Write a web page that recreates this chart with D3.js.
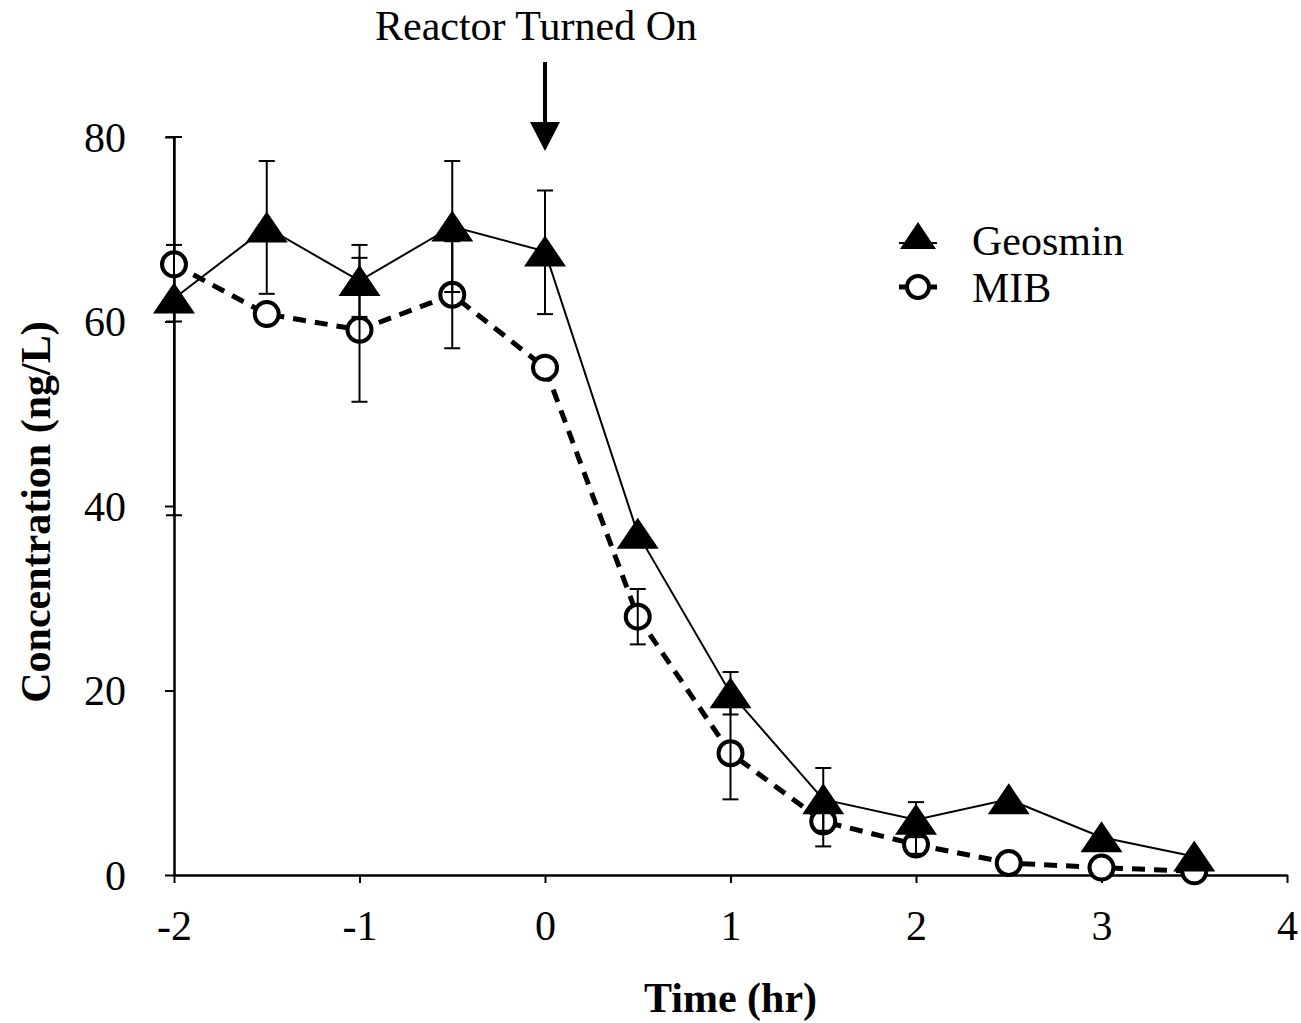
<!DOCTYPE html>
<html>
<head>
<meta charset="utf-8">
<script src="https://cdn.jsdelivr.net/npm/d3@7"></script>
<style>
  body { margin: 0; background: #fff; }
  svg text { font-family: "Liberation Serif", "Times New Roman", serif; fill: #000; }
</style>
</head>
<body>
<div id="chart"></div>
<script>
// data
const times = [-2, -1.5, -1, -0.5, 0, 0.5, 1, 1.5, 2, 2.5, 3, 3.5];
const geosmin = [62.5, 70.2, 64.4, 70.3, 67.6, 37.0, 19.7, 8.2, 6.0, 8.2, 4.1, 2.0];
const geoErrHi = [23.5, 7.2, 3.9, 7.1, 6.6, 0, 2.3, 3.4, 1.9, 0, 0, 0];
const geoErrLo = [23.5, 7.2, 3.9, 7.1, 6.8, 0, 2.3, 3.4, 1.9, 0, 0, 0];
const mib = [66.2, 60.8, 59.1, 62.9, 55.0, 28.0, 13.2, 5.8, 3.3, 1.3, 0.8, 0.4];
const mibErrHi = [2.1, 0, 7.8, 5.8, 0, 3.0, 5.0, 2.7, 1.0, 0, 0, 0];
const mibErrLo = [6.2, 0, 7.8, 5.8, 0, 3.0, 5.0, 2.7, 1.0, 0, 0, 0];
const xTicks = [-2, -1, 0, 1, 2, 3, 4];
const yTicks = [0, 20, 40, 60, 80];
const seriesNames = ["Geosmin", "MIB"];

const W = 1301, H = 1023;
const fs = 42;

const svg = d3.select("#chart").append("svg")
    .attr("width", W)
    .attr("height", H);

const x = d3.scaleLinear().domain([-2, 4]).range([174, 1287]);
const y = d3.scaleLinear().domain([0, 80]).range([875, 137]);

const geoData = times.map((t, i) => ({t: t, v: geosmin[i], hi: geoErrHi[i], lo: geoErrLo[i]}));
const mibData = times.map((t, i) => ({t: t, v: mib[i], hi: mibErrHi[i], lo: mibErrLo[i]}));

// axes
const xAxis = svg.append("g")
    .attr("transform", `translate(0, ${y(0)})`)
    .call(d3.axisBottom(x).tickValues(xTicks).tickSize(8).tickSizeOuter(0)
        .tickFormat(d3.format("d")));
const yAxis = svg.append("g")
    .attr("transform", `translate(${x(-2)}, 0)`)
    .call(d3.axisLeft(y).tickValues(yTicks).tickSize(9).tickSizeOuter(0));

[xAxis, yAxis].forEach(function (a) {
    a.select(".domain").attr("stroke", "#000").attr("stroke-width", 2.5);
    a.selectAll(".tick line").attr("stroke", "#000").attr("stroke-width", 2);
    a.selectAll(".tick text")
        .style("font-family", "'Liberation Serif', serif")
        .style("font-size", fs + "px")
        .attr("fill", "#000");
});
xAxis.selectAll(".tick text").attr("y", 0).attr("dy", 0)
    .attr("transform", "translate(0, 65)");
// keep the hyphen-minus look of the original labels
xAxis.selectAll(".tick text").text(d => String(d));
yAxis.selectAll(".tick text").attr("x", -48).attr("dy", "0.34em");

// axis titles
svg.append("text")
    .attr("x", x(1))
    .attr("y", 1012)
    .attr("text-anchor", "middle")
    .style("font-size", fs + "px")
    .style("font-weight", "bold")
    .text("Time (hr)");

svg.append("text")
    .attr("transform", `translate(50, ${(y(0) + y(80)) / 2 + 6}) rotate(-90)`)
    .attr("text-anchor", "middle")
    .style("font-size", fs + "px")
    .style("font-weight", "bold")
    .text("Concentration (ng/L)");

// annotation
svg.append("text")
    .attr("x", 536)
    .attr("y", 40)
    .attr("text-anchor", "middle")
    .style("font-size", fs + "px")
    .text("Reactor Turned On");
svg.append("line")
    .attr("x1", x(0)).attr("x2", x(0))
    .attr("y1", 62).attr("y2", 126)
    .attr("stroke", "#000").attr("stroke-width", 4);
svg.append("path")
    .attr("d", `M${x(0) - 15},122 L${x(0) + 15},122 L${x(0)},151 Z`)
    .attr("fill", "#000");

// lines
const line = d3.line().x(d => x(d.t)).y(d => y(d.v));

svg.append("path")
    .datum(mibData)
    .attr("d", line)
    .attr("fill", "none")
    .attr("stroke", "#000")
    .attr("stroke-width", 5)
    .attr("stroke-dasharray", "13,9");

svg.append("path")
    .datum(geoData)
    .attr("d", line)
    .attr("fill", "none")
    .attr("stroke", "#000")
    .attr("stroke-width", 2);

// markers
const tri = "M0,-16 L21,15 L-21,15 Z";

svg.append("g").selectAll("circle")
    .data(mibData)
    .enter()
    .append("circle")
    .attr("cx", d => x(d.t))
    .attr("cy", d => y(d.v))
    .attr("r", 12)
    .attr("fill", "#fff")
    .attr("stroke", "#000")
    .attr("stroke-width", 4);

svg.append("g").selectAll("path")
    .data(geoData)
    .enter()
    .append("path")
    .attr("d", tri)
    .attr("transform", d => `translate(${x(d.t)}, ${y(d.v)})`)
    .attr("fill", "#000");

// error bars, clipped to the plot range like the original
function errorBars(data) {
    const g = svg.append("g").attr("stroke", "#000").attr("stroke-width", 2);
    data.filter(d => d.hi > 0 || d.lo > 0).forEach(function (d) {
        const cx = x(d.t);
        const top = y(Math.min(80, d.v + d.hi));
        const bot = y(Math.max(0, d.v - d.lo));
        g.append("line").attr("x1", cx).attr("x2", cx).attr("y1", top).attr("y2", bot);
        g.append("line").attr("x1", cx - 8).attr("x2", cx + 8).attr("y1", top).attr("y2", top);
        g.append("line").attr("x1", cx - 8).attr("x2", cx + 8).attr("y1", bot).attr("y2", bot);
    });
}
errorBars(mibData);
errorBars(geoData);

// legend
const legend = svg.append("g").attr("transform", "translate(918, 0)");
const legendY = [236, 287];

legend.append("line")
    .attr("x1", -19).attr("x2", 19).attr("y1", legendY[0] + 7).attr("y2", legendY[0] + 7)
    .attr("stroke", "#000").attr("stroke-width", 2);
legend.append("path")
    .attr("d", "M0,-14 L18,13 L-18,13 Z")
    .attr("transform", `translate(0, ${legendY[0]})`)
    .attr("fill", "#000");

legend.append("line")
    .attr("x1", -19).attr("x2", 19).attr("y1", legendY[1]).attr("y2", legendY[1])
    .attr("stroke", "#000").attr("stroke-width", 5);
legend.append("circle")
    .attr("cx", 0).attr("cy", legendY[1])
    .attr("r", 11)
    .attr("fill", "#fff")
    .attr("stroke", "#000")
    .attr("stroke-width", 4);

legend.selectAll("text.lab")
    .data(seriesNames)
    .enter()
    .append("text")
    .attr("class", "lab")
    .attr("x", 54)
    .attr("y", (d, i) => [255, 302][i])
    .style("font-size", fs + "px")
    .text(d => d);
</script>
</body>
</html>
